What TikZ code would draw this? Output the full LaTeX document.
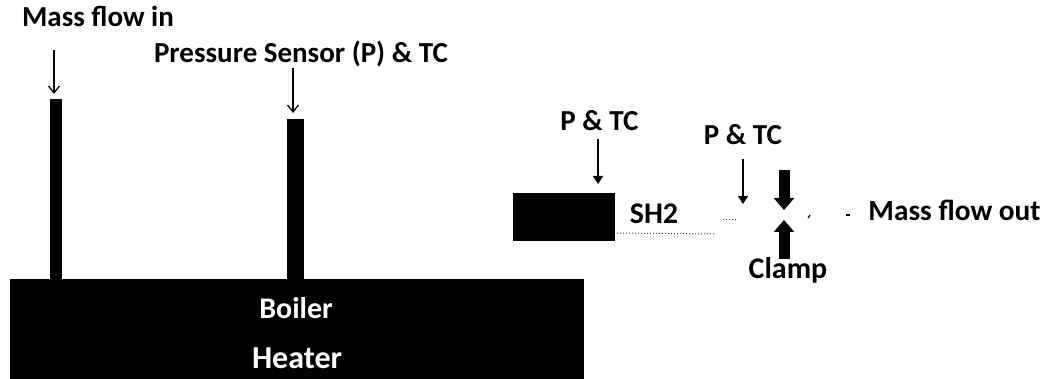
\documentclass[tikz,border=0pt]{standalone}
\usepackage{fontspec}
\setmainfont{Carlito}
\usetikzlibrary{arrows.meta}
\tikzset{
  lab/.style={font=\fontsize{#1}{#1}\selectfont\bfseries,text=black,inner sep=0pt,anchor=base},
  inlab/.style={font=\fontsize{#1}{#1}\selectfont\bfseries,text=white,inner sep=0pt,anchor=base},
  thinarrow/.style={draw=black,line width=1.3pt,-{Straight Barb[length=7pt,width=11pt,line width=1.3pt]}},
  smallarrow/.style={draw=black,line width=1.3pt,-{Triangle[length=8pt,width=10pt]}},
  clamparrow/.style={draw=black,line width=11pt,-{Triangle[length=12pt,width=20pt]}},
  speck/.style={draw=black!75,line width=1pt,dotted}
}
\begin{document}
\begin{tikzpicture}[x=1pt,y=-1pt]
\useasboundingbox (0,0) rectangle (1046,379);
\fill[white] (0,0) rectangle (1046,379);
% solid bodies
\node[fill=black,inner sep=0pt,minimum width=574pt,minimum height=100pt] (boiler) at (297,329) {};
\node[fill=black,inner sep=0pt,minimum width=12pt,minimum height=180pt] (stemA) at (56,189.5) {};
\node[fill=black,inner sep=0pt,minimum width=17pt,minimum height=161pt] (stemB) at (295.5,199.5) {};
\node[fill=black,inner sep=0pt,minimum width=102pt,minimum height=48pt] (sh) at (564,217) {};
% labels
\node[inlab=30] (boilerlab) at (296,318) {Boiler};
\node[inlab=32] (heaterlab) at (297,368) {Heater};
\node[lab=29] (inlab) at (98,27) {Mass flow in};
\node[lab=29] (plab) at (301,63) {Pressure Sensor (P) \& TC};
\node[lab=29] (p1) at (599.5,131) {P \& TC};
\node[lab=29] (p2) at (743,145) {P \& TC};
\node[lab=30] (shlab) at (654,224) {SH2};
\node[lab=29.3] (outlab) at (954.5,221) {Mass flow out};
\node[lab=30] (clamplab) at (788,278) {Clamp};
% arrow ends
\coordinate (a1) at (54,50);
\coordinate (a1e) at (54,94);
\coordinate (a2) at (293,68);
\coordinate (a2e) at (293,113);
\coordinate (a3) at (598,139);
\coordinate (a3e) at (598,184);
\coordinate (a4) at (743,159);
\coordinate (a4e) at (743,204);
\coordinate (c1) at (784,170);
\coordinate (c1e) at (784,210);
\coordinate (c2) at (784,259);
\coordinate (c2e) at (784,220);
\draw[thinarrow] (a1) -- (a1e);
\draw[thinarrow] (a2) -- (a2e);
\draw[smallarrow] (a3) -- (a3e);
\draw[smallarrow] (a4) -- (a4e);
\draw[clamparrow] (c1) -- (c1e);
\draw[clamparrow] (c2) -- (c2e);
% faint remnants of the pipe
\coordinate (s1) at (617,233);
\coordinate (s2) at (715,234);
\coordinate (s3) at (723,220);
\coordinate (s4) at (737,220);
\coordinate (s5) at (808,218);
\coordinate (s6) at (810,215);
\coordinate (s7) at (846,215);
\coordinate (s8) at (850,215);
\draw[speck] (s1) -- (s2);
\draw[speck] (s3) -- (s4);
\draw[black,line width=1.2pt] (s5) -- (s6);
\draw[black,line width=1.5pt] (s7) -- (s8);
\end{tikzpicture}
\end{document}
